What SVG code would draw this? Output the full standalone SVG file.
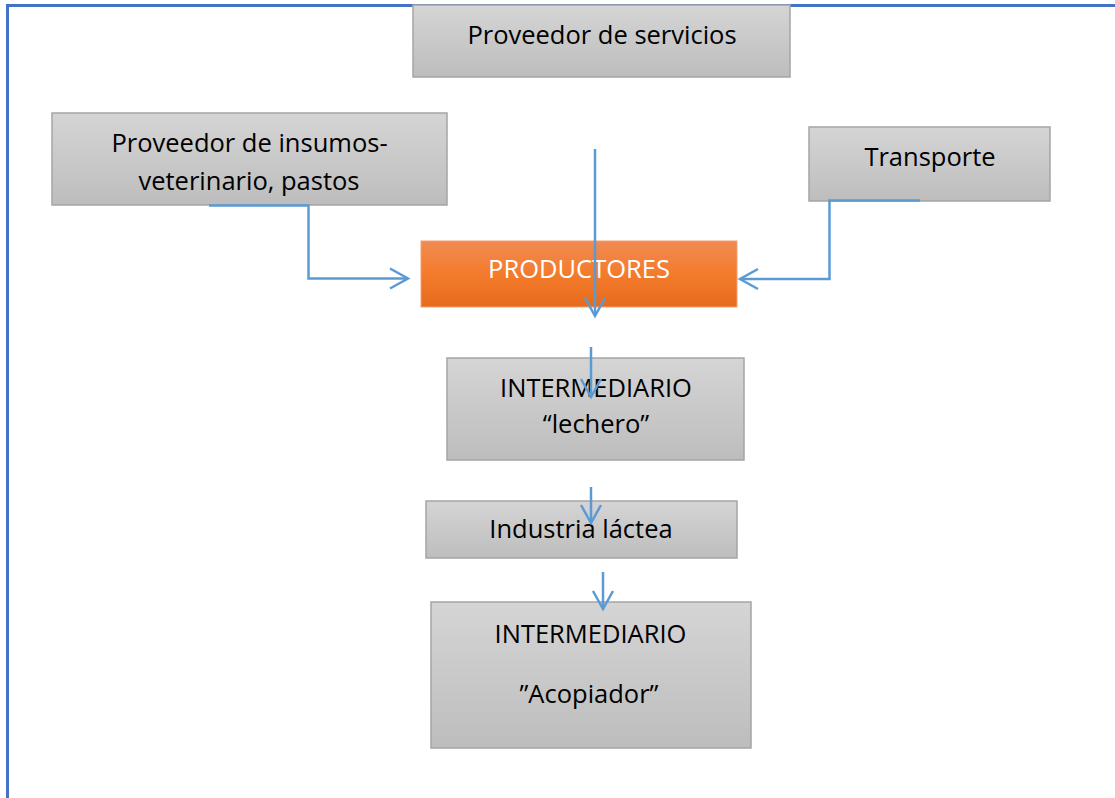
<svg xmlns="http://www.w3.org/2000/svg" width="1115" height="798" viewBox="0 0 1115 798">
<defs>
<linearGradient id="gGrey" x1="0" y1="0" x2="0" y2="1"><stop offset="0" stop-color="#d5d5d5"/><stop offset="1" stop-color="#bdbdbd"/></linearGradient>
<linearGradient id="gOrange" x1="0" y1="0" x2="0" y2="1"><stop offset="0" stop-color="#f08b52"/><stop offset="0.5" stop-color="#f47b2c"/><stop offset="1" stop-color="#e46c1c"/></linearGradient>
<marker id="arr" markerWidth="24" markerHeight="24" refX="20" refY="12" orient="auto" markerUnits="userSpaceOnUse">
<path d="M2,2 L20,12 L2,22" fill="none" stroke="#5b9bd5" stroke-width="2.5"/>
</marker>
<style>
.box{fill:url(#gGrey);stroke:#a5a5a5;stroke-width:1.5}
.org{fill:url(#gOrange);stroke:#f4a070;stroke-width:1}
.t{font-family:"Open Sans","Liberation Sans",sans-serif;font-size:25.5px;fill:#000;text-anchor:middle}
.w{fill:#fff}
.c{fill:none;stroke:#5b9bd5;stroke-width:2.5}
</style>
</defs>
<rect width="1115" height="798" fill="#fff"/>
<path d="M7.5,798 V5.5 H1115" fill="none" stroke="#4472c4" stroke-width="3"/>
<g id="n-servicios"><rect class="box" x="413" y="5" width="377" height="72"/><text class="t" x="602" y="44">Proveedor de servicios</text></g>
<g id="n-insumos"><rect class="box" x="52" y="113" width="395" height="92"/><text class="t" x="249.5" y="152">Proveedor de insumos-</text><text class="t" x="249" y="190">veterinario, pastos</text></g>
<g id="n-transporte"><rect class="box" x="809" y="127" width="241" height="74"/><text class="t" x="930" y="166">Transporte</text></g>
<g id="n-productores"><rect class="org" x="421" y="241" width="316" height="66"/><text class="t w" x="579" y="278">PRODUCTORES</text></g>
<g id="n-lechero"><rect class="box" x="447" y="358" width="297" height="102"/><text class="t" x="596" y="397">INTERMEDIARIO</text><text class="t" x="596" y="433">“lechero”</text></g>
<g id="n-industria"><rect class="box" x="426" y="501" width="311" height="57"/><text class="t" x="581" y="538">Industria láctea</text></g>
<g id="n-acopiador"><rect class="box" x="431" y="602" width="320" height="146"/><text class="t" x="590.5" y="643">INTERMEDIARIO</text><text class="t" x="589" y="703">”Acopiador”</text></g>
<g id="connectors">
<path class="c" d="M209,205.5 H308.5 V278.5 H408" marker-end="url(#arr)"/>
<path class="c" d="M920,200.5 H829.5 V279 H740" marker-end="url(#arr)"/>
<path class="c" d="M595,149 V316" marker-end="url(#arr)"/>
<path class="c" d="M591,347 V397" marker-end="url(#arr)"/>
<path class="c" d="M591,487 V523" marker-end="url(#arr)"/>
<path class="c" d="M603,572 V609" marker-end="url(#arr)"/>
</g>
</svg>
